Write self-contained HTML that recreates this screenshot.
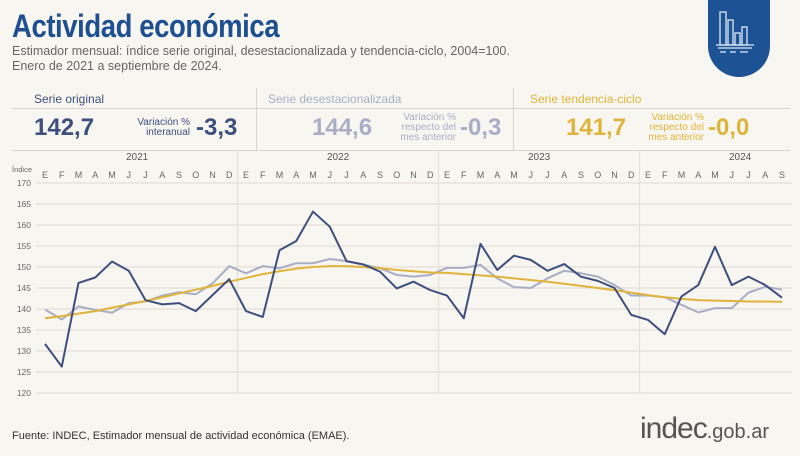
<!DOCTYPE html>
<html><head><meta charset="utf-8">
<style>
body{margin:0;width:800px;height:456px;background:#f8f6f0;font-family:"Liberation Sans",sans-serif;position:relative;overflow:hidden}
.abs{position:absolute}
</style></head><body>
<div class="abs" style="left:12px;top:8px;font-size:32px;font-weight:bold;color:#1d4f91;letter-spacing:-0.5px;transform:scaleX(0.86);transform-origin:0 0">Actividad económica</div>
<div class="abs" style="left:12px;top:44px;font-size:12.5px;color:#666;line-height:15px">Estimador mensual: índice serie original, desestacionalizada y tendencia-ciclo, 2004=100.<br>Enero de 2021 a septiembre de 2024.</div>
<div class="abs" style="left:708px;top:-10px;width:62px;height:87px;background:#1d5295;border-radius:0 0 31px 31px">
<svg width="62" height="87" style="position:absolute;left:0;top:0"><g fill="none" stroke="#dfe8f3" stroke-width="1.3"><rect x="12" y="22" width="6" height="33"/><rect x="20" y="30" width="5" height="25"/><rect x="27" y="43" width="5" height="12"/><rect x="34" y="37" width="5" height="18"/><line x1="8" y1="55" x2="46" y2="55"/><line x1="10" y1="58" x2="44" y2="58"/><line x1="12" y1="62" x2="18" y2="62"/><line x1="22" y1="62" x2="28" y2="62"/><line x1="32" y1="62" x2="40" y2="62"/></g></svg></div>

<div class="abs" style="left:12px;top:108px;width:778px;height:1px;background:#d8d4cc"></div>
<div class="abs" style="left:12px;top:150px;width:778px;height:1px;background:#d8d4cc"></div>
<div class="abs" style="left:256px;top:88px;width:1px;height:62px;background:#d8d4cc"></div>
<div class="abs" style="left:513px;top:88px;width:1px;height:62px;background:#d8d4cc"></div>

<div class="abs" style="left:34px;top:92px;font-size:12px;color:#3d4f7f">Serie original</div>
<div class="abs" style="left:34px;top:114px;font-size:24px;font-weight:bold;color:#3d4f7f">142,7</div>
<div class="abs" style="left:122px;top:118px;font-size:10px;color:#3d4f7f;text-align:right;width:68px;line-height:10px">Variación %<br>interanual</div>
<div class="abs" style="left:196px;top:114px;font-size:24px;font-weight:bold;color:#3d4f7f">-3,3</div>

<div class="abs" style="left:268px;top:92px;font-size:12px;color:#a9aec6">Serie desestacionalizada</div>
<div class="abs" style="left:312px;top:114px;font-size:24px;font-weight:bold;color:#a9aec6">144,6</div>
<div class="abs" style="left:386px;top:113px;font-size:10px;color:#a9aec6;text-align:right;width:70px;line-height:10px">Variación %<br>respecto del<br>mes anterior</div>
<div class="abs" style="left:460px;top:114px;font-size:24px;font-weight:bold;color:#a9aec6">-0,3</div>

<div class="abs" style="left:530px;top:92px;font-size:12px;color:#e0b43a">Serie tendencia-ciclo</div>
<div class="abs" style="left:566px;top:114px;font-size:24px;font-weight:bold;color:#e0b43a">141,7</div>
<div class="abs" style="left:634px;top:113px;font-size:10px;color:#e0b43a;text-align:right;width:70px;line-height:10px">Variación %<br>respecto del<br>mes anterior</div>
<div class="abs" style="left:708px;top:114px;font-size:24px;font-weight:bold;color:#e0b43a">-0,0</div>

<svg id="chart" class="abs" style="left:0;top:150px" width="800" height="260"></svg>

<div class="abs" style="left:12px;top:430px;font-size:11px;color:#333">Fuente: INDEC, Estimador mensual de actividad económica (EMAE).</div>
<div class="abs" style="left:640px;top:412px;color:#555"><span style="font-size:30px;letter-spacing:-1px">indec</span><span style="font-size:20px">.gob.ar</span></div>

<script>
const years=["2021","2022","2023","2024"];
const monthLetters=["E","F","M","A","M","J","J","A","S","O","N","D"];
const yTicks=[120,125,130,135,140,145,150,155,160,165,170];
const original=[131.7,126.3,146.2,147.5,151.3,149.1,142.1,141.1,141.4,139.5,143.3,147.1,
139.5,138.1,154.0,156.2,163.2,159.6,151.4,150.6,148.9,144.9,146.5,144.5,
143.2,137.8,155.5,149.3,152.7,151.7,149.1,150.7,147.7,146.7,145.0,138.6,
137.4,134.0,143.0,145.7,154.8,145.7,147.7,145.7,142.7];
const deseason=[139.9,137.5,140.6,139.8,139.1,141.4,141.8,143.2,144.0,143.5,146.1,150.2,
148.5,150.2,149.7,150.9,150.9,151.9,151.4,150.6,149.7,148.1,147.7,148.1,
149.8,149.8,150.5,147.3,145.2,145.0,147.3,149.1,148.5,147.7,145.7,143.2,
143.2,142.8,141.0,139.2,140.2,140.2,143.9,145.3,144.6];
const trend=[137.8,138.3,138.9,139.5,140.3,141.1,141.9,142.8,143.7,144.6,145.5,146.5,
147.4,148.3,149.0,149.6,150.0,150.2,150.2,150.0,149.7,149.3,149.0,148.7,
148.6,148.3,148.0,147.7,147.3,146.9,146.5,146.0,145.5,145.0,144.5,143.9,
143.3,142.8,142.4,142.1,142.0,141.9,141.8,141.8,141.7];
const NS="http://www.w3.org/2000/svg";
const svg=document.getElementById('chart');
const x0=45,dx=16.75,yTop=33,yBot=243,left=36,right=792;
const X=i=>x0+i*dx;
const Y=v=>yBot-(v-120)/50*(yBot-yTop);
function el(t,a,p){const e=document.createElementNS(NS,t);for(const k in a)e.setAttribute(k,a[k]);(p||svg).appendChild(e);return e;}
yTicks.forEach(v=>{
 const l=el('line',{x1:left,x2:right,y1:Y(v),y2:Y(v),stroke:'#e4e0d8','stroke-width':1.2});
 
 
 const t=el('text',{x:31,y:Y(v)+3,'text-anchor':'end','font-size':8.5,fill:'#666'});t.textContent=v;
 
 
});
const yt=el('text',{x:12,y:22,'font-size':7.5,fill:'#666'});yt.textContent='Índice';


years.forEach((yr,k)=>{
 if(k>0){const d=el('line',{x1:X(k*12)-8.4,x2:X(k*12)-8.4,y1:0,y2:yBot,stroke:'#e2ded6','stroke-width':1});
 
 }
 const t=el('text',{x:X(k*12)+5.5*dx,y:10,'text-anchor':'middle','font-size':10,fill:'#555'});t.textContent=yr;
 
 
});
for(let i=0;i<original.length;i++){
 const t=el('text',{x:X(i),y:28,'text-anchor':'middle','font-size':9,fill:'#666'});t.textContent=monthLetters[i%12];
 
 
}
function line(arr,color,w,name){
 const p=el('polyline',{points:arr.map((v,i)=>X(i)+','+Y(v)).join(' '),fill:'none',stroke:color,'stroke-width':w,'stroke-linejoin':'round'});
 
 
}
line(deseason,'#a9aec6',2,'deseasonalized-line');
line(trend,'#e0b43a',2,'trend-line');
line(original,'#3d4f7f',2,'original-line');
</script>
</body></html>
